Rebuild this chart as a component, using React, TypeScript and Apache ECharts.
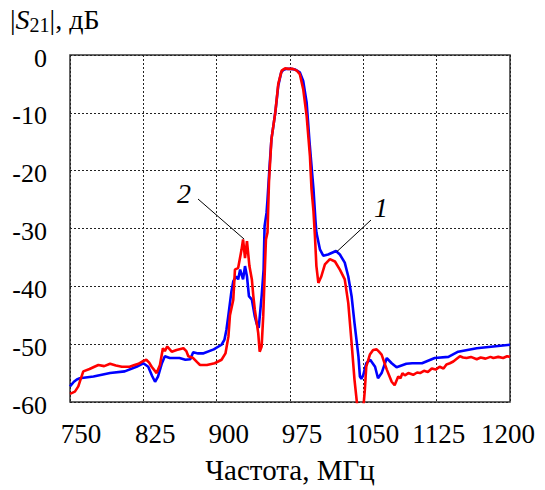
import React, { useEffect, useRef } from "react";
import * as echarts from "echarts";

// Curve 1 (blue)
const freqBlue = [750, 754, 757, 760, 774, 791, 806, 818, 825, 830, 834, 837, 840, 844, 847, 852, 862, 868, 873, 876, 881, 886, 897, 905, 908, 910, 912, 915, 917, 920, 922, 924, 927, 929, 931, 933, 936, 939, 941, 943, 946, 948, 949, 951, 952, 954, 956, 960, 963, 966, 968, 971.5, 976, 980, 985, 988.5, 992, 995, 999, 1001, 1002, 1005.6, 1009, 1014, 1022, 1026, 1031, 1034.6, 1038, 1041, 1045, 1046.5, 1048, 1050, 1053, 1057, 1062, 1065, 1068.7, 1074, 1079, 1084, 1094, 1100, 1110, 1123, 1137, 1147, 1166, 1183, 1200];
const valBlue = [-57.3, -56.5, -56.1, -55.9, -55.6, -55.0, -54.7, -53.9, -53.3, -53.9, -55.5, -56.5, -55.6, -53.3, -52.1, -52.4, -52.4, -52.7, -52.6, -51.4, -51.6, -51.6, -50.9, -50.1, -49.2, -47.5, -45.0, -41.0, -39.1, -38.3, -38.8, -37.1, -38.8, -36.5, -38.3, -41.7, -42.3, -45.2, -46.5, -47.2, -41.7, -37.1, -29.6, -27.3, -25.0, -19.5, -14.6, -9.9, -5.3, -3.0, -2.6, -2.4, -2.4, -2.5, -3.0, -4.5, -8.2, -15.1, -23.2, -28.5, -30.7, -33.6, -34.7, -34.5, -33.9, -34.5, -35.9, -38.3, -41.7, -46.4, -52.1, -55.6, -56.0, -55.3, -53.3, -52.7, -53.9, -55.9, -55.0, -52.4, -53.3, -54.0, -53.4, -53.3, -53.3, -52.4, -52.2, -51.3, -50.7, -50.4, -50.1];

// Curve 2 (red)
const freqRed = [750, 755, 758.5, 761, 763.6, 770, 775, 779, 785, 791, 797, 803, 811, 816, 820, 825, 828, 831, 833.5, 838.6, 842, 845, 847, 849.5, 854, 859, 866, 869, 871, 876, 880, 883, 890, 898, 905, 909, 912, 913.6, 917, 918.7, 922, 925.5, 927, 929, 931, 933.5, 936, 937.5, 939, 942.5, 944, 946, 947.6, 949.4, 950.4, 952, 953.5, 956, 960, 963, 966.5, 970, 973, 978, 982, 985, 988.5, 992, 995.4, 997, 999, 1000.5, 1002, 1004, 1007, 1010.7, 1015.8, 1021, 1026, 1031, 1034.6, 1038, 1041, 1044, 1047, 1050, 1051.5, 1053, 1056.7, 1060, 1063.6, 1066, 1068.7, 1074, 1079, 1082, 1085.7, 1088, 1090, 1092.5, 1096, 1101, 1105, 1108, 1112, 1116, 1120, 1124, 1128, 1132, 1135, 1138.5, 1142, 1148.8, 1152, 1155.6, 1160, 1166, 1170, 1175, 1180, 1183, 1188, 1193, 1197, 1200];
const valRed = [-58.6, -58.2, -57.3, -56.0, -54.7, -54.3, -53.9, -53.6, -53.8, -53.4, -53.7, -53.9, -53.9, -53.6, -53.4, -52.9, -52.7, -53.2, -53.9, -55.0, -53.6, -50.7, -51.2, -50.4, -51.3, -51.0, -50.7, -51.2, -52.1, -52.4, -53.1, -53.6, -53.6, -53.3, -52.7, -51.6, -48.7, -45.0, -42.3, -37.1, -36.8, -33.6, -31.9, -35.1, -32.2, -36.5, -38.8, -41.7, -44.0, -48.1, -51.3, -50.4, -45.2, -36.5, -31.9, -30.7, -22.0, -14.6, -9.9, -5.0, -2.7, -2.3, -2.4, -2.4, -2.7, -3.3, -5.9, -10.5, -17.5, -23.2, -27.0, -31.3, -36.5, -39.4, -38.3, -36.2, -35.3, -35.7, -37.1, -38.8, -42.9, -49.8, -56.2, -61.0, -64.0, -61.0, -58.0, -53.9, -51.8, -51.0, -50.9, -51.3, -51.8, -54.4, -56.5, -57.1, -55.6, -55.9, -55.0, -55.4, -55.0, -55.3, -54.9, -55.0, -54.6, -54.8, -54.2, -54.4, -53.9, -54.2, -53.5, -53.3, -53.0, -52.1, -52.3, -52.4, -52.2, -52.6, -52.3, -52.5, -52.2, -52.4, -52.2, -52.4, -52.1, -52.2];

const xTicks = [750, 825, 900, 975, 1050, 1125, 1200];
const yTicks = [0, -10, -20, -30, -40, -50, -60];

const xTitle = "Частота, МГц";

// label horizontal shifts (style)
const xLabelShift = [11, 12, 12, 12, 9, 2, -2];

const FONT = "'Liberation Serif', 'Times New Roman', serif";

export default function App() {
  const ref = useRef<HTMLDivElement>(null);
  useEffect(() => {
    if (!ref.current) return;
    const chart = echarts.init(ref.current, undefined, { renderer: "svg" });
    const rich: Record<string, any> = {};
    xTicks.forEach((t, i) => {
      const s = xLabelShift[i];
      rich["o" + i] = {
        fontFamily: FONT,
        fontSize: 27,
        color: "#000",
        padding: s >= 0 ? [0, 0, 0, 2 * s] : [0, -2 * s, 0, 0],
      };
    });
    chart.setOption({
      animation: false,
      backgroundColor: "#fff",
      grid: {
        left: 70,
        right: 35,
        top: 55,
        bottom: 88,
        show: true,
        borderColor: "#333",
        borderWidth: 1.5,
        backgroundColor: "transparent",
      },
      xAxis: {
        type: "value",
        min: 750,
        max: 1200,
        interval: 75,
        axisLine: { show: false },
        axisTick: { show: false },
        splitLine: { show: true, lineStyle: { type: [2, 2], color: "#222", width: 1 } },
        axisLabel: {
          margin: 18,
          fontFamily: FONT,
          fontSize: 27,
          color: "#000",
          formatter: (v: number) => {
            const i = xTicks.indexOf(v);
            return i >= 0 ? `{o${i}|${v}}` : "";
          },
          rich,
        },
      },
      yAxis: {
        type: "value",
        min: -60,
        max: 0,
        interval: 10,
        axisLine: { show: false },
        axisTick: { show: false },
        splitLine: { show: true, lineStyle: { type: [2, 2], color: "#222", width: 1 } },
        axisLabel: {
          margin: 23,
          fontFamily: FONT,
          fontSize: 26,
          color: "#000",
          formatter: (v: number) => (yTicks.indexOf(v) >= 0 ? `{y|${v}}` : ""),
          rich: {
            y: { fontFamily: FONT, fontSize: 26, color: "#000", padding: [6, 0, 0, 0] },
          },
        },
      },
      graphic: [
        {
          type: "text",
          left: 10,
          top: 5,
          style: {
            text: "{a||}{s|S}{n|21}{a||, дБ}",
            rich: {
              a: { fontFamily: FONT, fontSize: 28, fill: "#000" },
              s: { fontFamily: FONT, fontSize: 28, fontStyle: "italic", fill: "#000" },
              n: { fontFamily: FONT, fontSize: 20, fill: "#000", verticalAlign: "bottom", padding: [0, 0, -2, 0] },
            },
          },
        },
        {
          type: "text",
          x: 290,
          y: 470,
          style: {
            text: xTitle,
            fontFamily: FONT,
            fontSize: 29,
            fill: "#000",
            align: "center",
            verticalAlign: "middle",
          },
        },
        {
          type: "text",
          x: 184,
          y: 193,
          style: { text: "2", fontFamily: FONT, fontSize: 28, fontStyle: "italic", fill: "#000", align: "center", verticalAlign: "middle" },
        },
        {
          type: "text",
          x: 381,
          y: 207,
          style: { text: "1", fontFamily: FONT, fontSize: 28, fontStyle: "italic", fill: "#000", align: "center", verticalAlign: "middle" },
        },
        {
          type: "line",
          shape: { x1: 198, y1: 199, x2: 244, y2: 239 },
          style: { stroke: "#000", lineWidth: 1 },
          z: 10,
        },
        {
          type: "line",
          shape: { x1: 371, y1: 220, x2: 337, y2: 251.5 },
          style: { stroke: "#000", lineWidth: 1 },
          z: 10,
        },
      ],
      series: [
        {
          type: "line",
          name: "1",
          data: freqBlue.map((f, i) => [f, valBlue[i]]),
          showSymbol: false,
          symbol: "none",
          clip: true,
          lineStyle: { color: "#0000ff", width: 2.6 },
          z: 2,
        },
        {
          type: "line",
          name: "2",
          data: freqRed.map((f, i) => [f, valRed[i]]),
          showSymbol: false,
          symbol: "none",
          clip: true,
          lineStyle: { color: "#ff0000", width: 2.6 },
          z: 3,
        },
      ],
    });
    return () => chart.dispose();
  }, []);
  return <div ref={ref} style={{ position: "absolute", left: 0, top: 0, width: 545, height: 490 }} />;
}
